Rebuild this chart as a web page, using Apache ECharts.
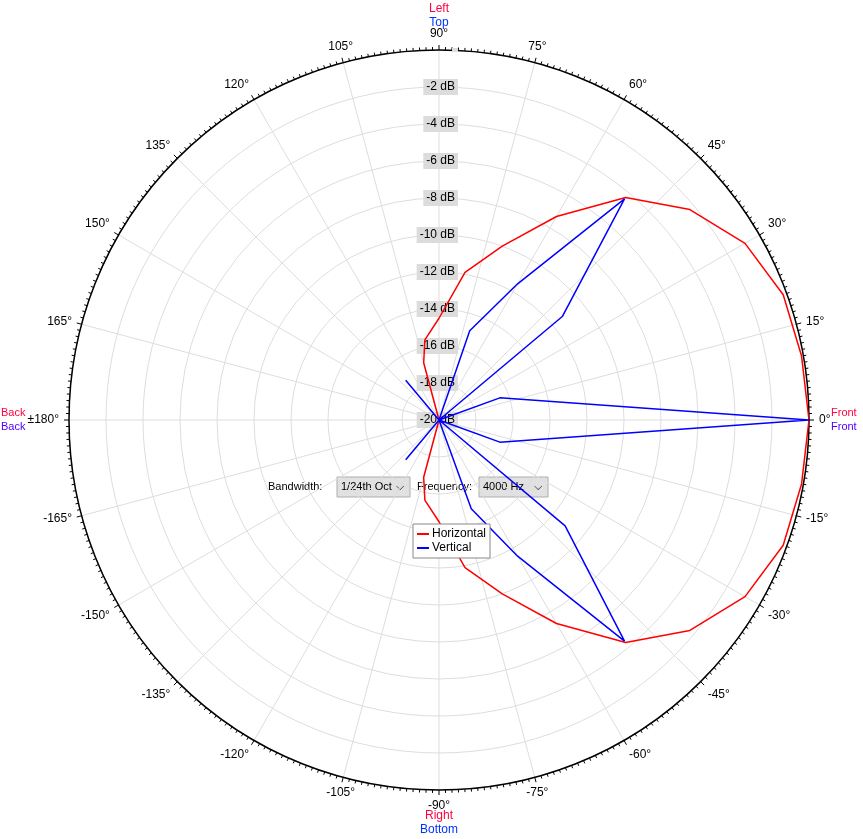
<!DOCTYPE html>
<html>
<head>
<meta charset="utf-8">
<script src="https://cdn.jsdelivr.net/npm/echarts@6/dist/echarts.min.js"></script>
<style>html,body{margin:0;padding:0;background:#fff}#c{width:863px;height:839px}</style>
</head>
<body>
<div id="c"></div>
<script>
// angle in degrees (0 = front, +90 = top/left), level in dB
let hAngles = [0, 10, 20, 30, 40, 50, 60, 70, 80, 90, 100, 105, 120, 180, 240, 255, 260, 270, 280, 290, 300, 310, 320, 330, 340, 350, 360];
let hValues = [0, -0.1, -0.2, -0.9, -2.3, -4.3, -7.3, -10, -11.9, -14.5, -15.6, -16.8, -20, -20, -20, -16.8, -15.6, -14.5, -11.9, -10, -7.3, -4.3, -2.3, -0.9, -0.2, -0.1, 0];
let vAngles = [180, 130, 110, 80, 71, 60, 50, 40, 30, 20, 0, -20, -30, -40, -50, -60, -70, -80, -110, -130, -180];
let vValues = [-20, -17.2, -20, -20, -14.9, -11.5, -4.4, -11.3, -20, -16.5, 0, -16.5, -20, -11.1, -4.4, -11.5, -14.9, -20, -20, -17.2, -20];

function toAxis(a) { a = ((a % 360) + 360) % 360; return a < 90 ? a + 360 : a; }
function pts(angles, values) { return angles.map((a, i) => [values[i], toAxis(a)]); }

let chart = echarts.init(document.getElementById('c'));
let font = 'Liberation Sans';
let f12 = '12px ' + font;
let option = {
  animation: false,
  textStyle: {fontFamily: font},
  polar: {center: [439, 420], radius: 370},
  angleAxis: {
    type: 'value', min: 90, max: 450, interval: 15, startAngle: 90, clockwise: false,
    axisLine: {lineStyle: {color: '#000', width: 1.5}},
    axisTick: {length: 5, lineStyle: {color: '#000'}},
    minorTick: {show: true, splitNumber: 15, length: 3, lineStyle: {color: '#000'}},
    splitLine: {show: true, lineStyle: {color: '#ddd'}},
    axisLabel: {
      color: '#000', fontSize: 12, margin: 10,
      formatter: function (v) {
        if (v === 450) return '';
        let a = v % 360;
        if (a === 180) return '±180°';
        return (a > 180 ? a - 360 : a) + '°';
      }
    }
  },
  radiusAxis: {
    type: 'value', min: -20, max: 0, interval: 2,
    axisLine: {show: false}, axisTick: {show: false},
    splitLine: {lineStyle: {color: '#ddd'}},
    axisLabel: {
      color: '#000', fontSize: 12, backgroundColor: '#dcdcdc', padding: [2, 3], margin: -19,
      formatter: function (v) { return v === 0 ? '' : v + ' dB'; }
    }
  },
  legend: {
    data: ['Horizontal', 'Vertical'], orient: 'vertical', left: 413, top: 524,
    itemWidth: 12, itemHeight: 2, itemGap: 2, padding: [4, 4], icon: 'rect',
    borderColor: '#888', borderWidth: 1, backgroundColor: '#fff',
    textStyle: {fontSize: 12, color: '#000', padding: [0, 0, 0, -2]}
  },
  series: [
    {name: 'Horizontal', type: 'line', coordinateSystem: 'polar', showSymbol: false, symbol: 'none',
     lineStyle: {color: '#ff0000', width: 1.5}, itemStyle: {color: '#ff0000'}, data: pts(hAngles, hValues)},
    {name: 'Vertical', type: 'line', coordinateSystem: 'polar', showSymbol: false, symbol: 'none',
     lineStyle: {color: '#0000ff', width: 1.5}, itemStyle: {color: '#0000ff'}, data: pts(vAngles, vValues)}
  ],
  graphic: [
    {type: 'text', x: 439, y: 3, style: {text: 'Left', fill: '#ff0040', font: f12, align: 'center'}},
    {type: 'text', x: 439, y: 17, style: {text: 'Top', fill: '#0033ff', font: f12, align: 'center'}},
    {type: 'text', x: 439, y: 810, style: {text: 'Right', fill: '#ff0040', font: f12, align: 'center'}},
    {type: 'text', x: 439, y: 824, style: {text: 'Bottom', fill: '#0033ff', font: f12, align: 'center'}},
    {type: 'text', x: 1, y: 407, style: {text: 'Back', fill: '#ff0040', font: '11px ' + font}},
    {type: 'text', x: 1, y: 421, style: {text: 'Back', fill: '#5500ff', font: '11px ' + font}},
    {type: 'text', x: 831, y: 407, style: {text: 'Front', fill: '#ff0040', font: '11px ' + font}},
    {type: 'text', x: 831, y: 421, style: {text: 'Front', fill: '#5500ff', font: '11px ' + font}},
    {type: 'text', x: 268, y: 481, style: {text: 'Bandwidth:', fill: '#000', font: '11px ' + font}},
    {type: 'rect', shape: {x: 337, y: 477, width: 73, height: 20}, style: {fill: '#e1e1e1', stroke: '#adadad'}},
    {type: 'text', x: 341, y: 481, style: {text: '1/24th Oct', fill: '#000', font: '11px ' + font}},
    {type: 'text', x: 396, y: 481, style: {text: '⌵', fill: '#000', font: '11px ' + font}},
    {type: 'text', x: 417, y: 481, style: {text: 'Frequency:', fill: '#000', font: '11px ' + font}},
    {type: 'rect', shape: {x: 479, y: 477, width: 69, height: 20}, style: {fill: '#e1e1e1', stroke: '#adadad'}},
    {type: 'text', x: 483, y: 481, style: {text: '4000 Hz', fill: '#000', font: '11px ' + font}},
    {type: 'text', x: 534, y: 481, style: {text: '⌵', fill: '#000', font: '11px ' + font}}
  ]
};
chart.setOption(option);
</script>
</body>
</html>
